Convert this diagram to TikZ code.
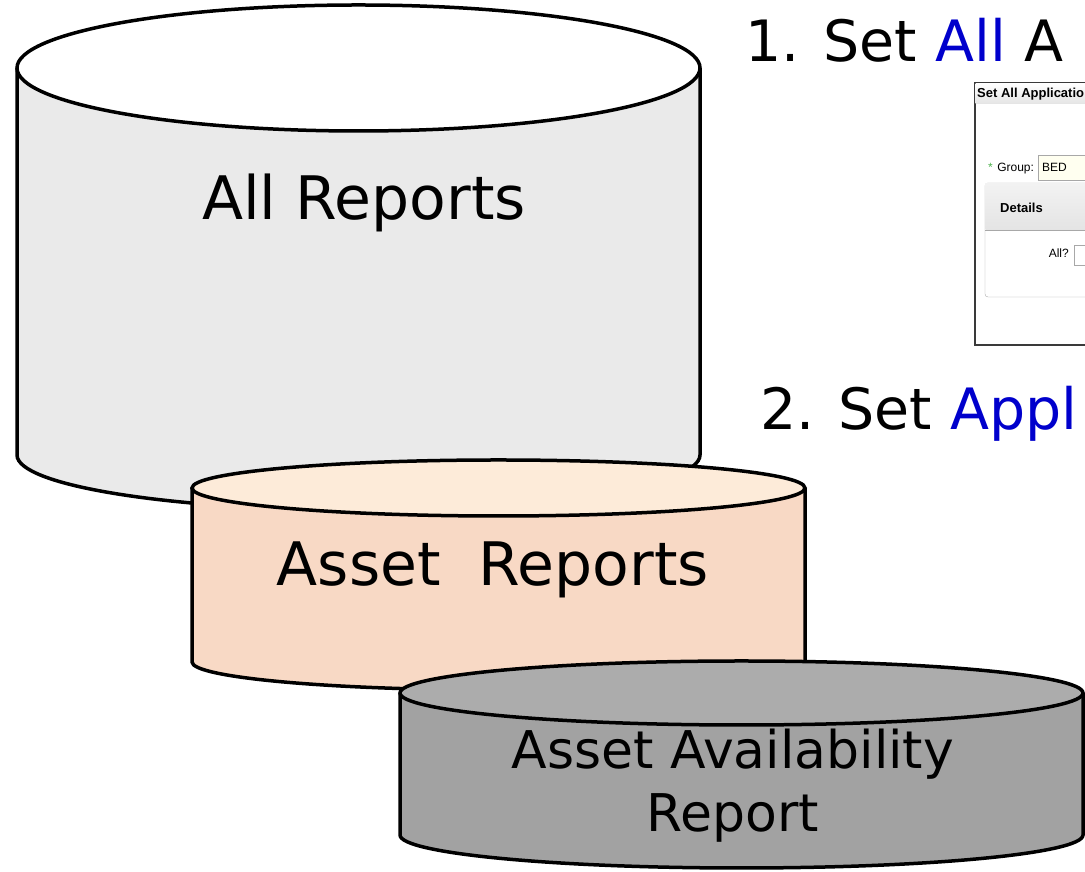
\documentclass[tikz,border=0pt]{standalone}
\usepackage{fontspec}
\setmainfont{DejaVu Sans}
\newfontfamily\uifont{Liberation Sans}
\usepackage{tikz}
\usetikzlibrary{positioning}
\definecolor{allside}{HTML}{EAEAEA}
\definecolor{assettop}{HTML}{FDEBD9}
\definecolor{assetside}{HTML}{F8D9C5}
\definecolor{availtop}{HTML}{ACACAC}
\definecolor{availside}{HTML}{A2A2A2}
\definecolor{stepblue}{HTML}{0000CC}
\definecolor{uiframe}{HTML}{3A3A3A}
\definecolor{uibar}{HTML}{E4E4E4}
\definecolor{uiinput}{HTML}{FFFFF0}
\definecolor{uiedge}{HTML}{A8A8A8}

\tikzset{
  drum/.style={
    line width = 3.5pt,
    draw = black
  },
  drumlabel/.style={
    font = \fontsize{60}{64}\selectfont,
    inner sep = 0pt,
    align = center
  },
  steptext/.style={
    font = \fontsize{57}{64}\selectfont,
    anchor = base west,
    inner sep = 0pt
  },
  uitext/.style={
    font = \uifont\fontsize{12}{14}\selectfont,
    inner sep = 0pt
  },
  uibold/.style={
    font = \uifont\bfseries\fontsize{13}{15}\selectfont,
    inner sep = 0pt
  }
}

\begin{document}
\begin{tikzpicture}[x=1pt,y=1pt]
    \useasboundingbox (0,0) rectangle (1085,872);
    % all reports
    \def\xl{17}  \def\xr{700} \def\rx{341.5}
    \fill[allside] (\xl,804) -- (\xl,417) arc[start angle=180,end angle=360,x radius=\rx,y radius=55] -- (\xr,804) -- cycle;
    \draw[drum] (\xl,804) -- (\xl,417) arc[start angle=180,end angle=360,x radius=\rx,y radius=55] -- (\xr,804);
    \draw[drum, fill=white] (358.5,804) ellipse[x radius=\rx, y radius=63];
    \node[drumlabel] (allrep) at (364,669) {All Reports};
    % asset reports
    \def\xl{192} \def\xr{805} \def\rx{306.5}
    \fill[assetside] (\xl,384) -- (\xl,210) arc[start angle=180,end angle=360,x radius=\rx,y radius=28] -- (\xr,384) -- cycle;
    \draw[drum] (\xl,384) -- (\xl,210) arc[start angle=180,end angle=360,x radius=\rx,y radius=28] -- (\xr,384);
    \draw[drum, fill=assettop] (498.5,384) ellipse[x radius=\rx, y radius=28];
    \node[drumlabel] (assetrep) at (493,302) {Asset\ \ Reports};
    % asset availability report
    \def\xl{400} \def\xr{1083} \def\rx{341.5}
    \fill[availside] (\xl,179) -- (\xl,37) arc[start angle=180,end angle=360,x radius=\rx,y radius=33] -- (\xr,179) -- cycle;
    \draw[drum] (\xl,179) -- (\xl,37) arc[start angle=180,end angle=360,x radius=\rx,y radius=33] -- (\xr,179);
    \draw[drum, fill=availtop] (741.5,179) ellipse[x radius=\rx, y radius=32];
    \node[drumlabel, font=\fontsize{52}{63}\selectfont] (availrep) at (733,86) {Asset Availability\\Report};
    % steps
    \node[steptext] (stepone) at (745,810) {1. Set \textcolor{stepblue}{All} A};
    \node[steptext] (steptwo) at (760,442) {2. Set \textcolor{stepblue}{Appl}};
    % screenshot
    \draw[uiframe, fill=white, line width=1.2pt] (975,789) rectangle (1095,527);
    \fill[top color=white, bottom color=uibar] (975.6,788.4) rectangle (1095,768);
    \node[uibold, anchor=base west] (uititle) at (977,774) {Set All Applicatio};
    \node[uitext, anchor=base west, text=green!40!gray] (uistar) at (988,700) {*};
    \node[uitext, right=4pt of uistar.base east, anchor=base west] (uigroup) {Group:};
    \draw[uiedge, fill=uiinput] (1038,717) rectangle (1095,692);
    \node[uitext, anchor=base west] (uibed) at (1042,700) {BED};
    \draw[uiedge, fill=white, rounded corners=3pt] (985,689) rectangle (1100,575);
    \fill[top color=white!95!black, bottom color=uibar] (985.5,688.5) rectangle (1099,642);
    \draw[uiedge] (985,642) -- (1095,642);
    \node[uibold, anchor=base west] (uidetails) at (1000,659) {Details};
    \node[uitext, anchor=base east] (uiall) at (1069,614) {All?};
    \draw[uiedge, fill=white] (1074,627) rectangle (1095,607);
\end{tikzpicture}
\end{document}
